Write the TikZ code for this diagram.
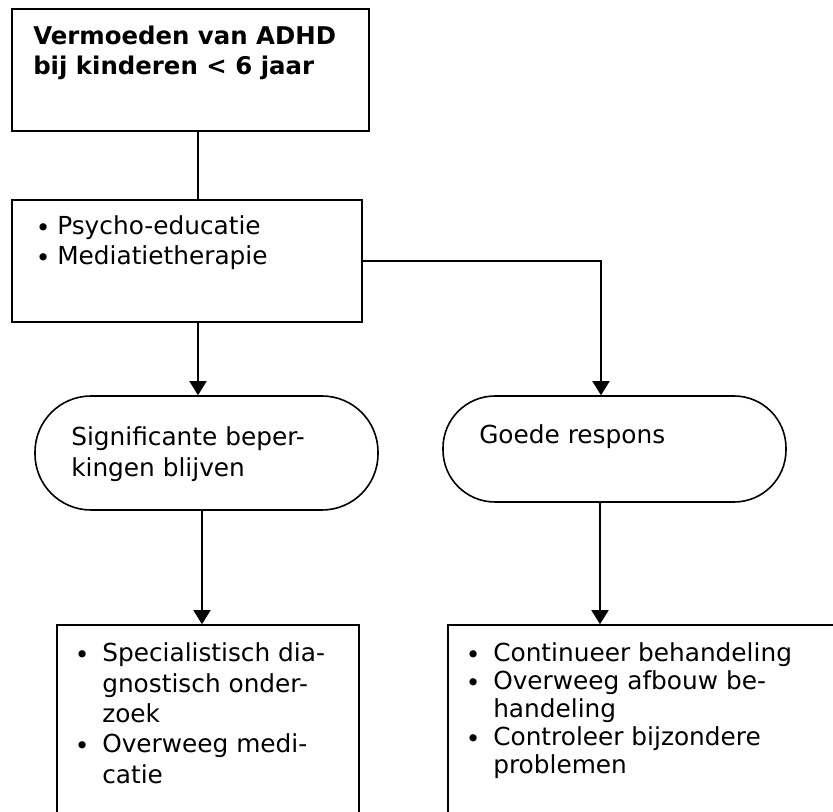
\documentclass[tikz,border=0pt]{standalone}
\usepackage{fontspec}
\setmainfont{DejaVu Sans}
\usetikzlibrary{arrows.meta}
\newcommand\blt[1]{\makebox[#1][c]{\raisebox{-1.5pt}{•}}}
\begin{document}
\begin{tikzpicture}[x=0.75pt,y=-0.75pt,
  box/.style={draw,line width=1.2pt,rectangle,inner sep=0pt},
  stad/.style={draw,line width=1.2pt,rectangle,inner sep=0pt},
  txt/.style={inner sep=0pt,anchor=base west,font=\fontsize{18.6pt}{22.5pt}\selectfont},
  conn/.style={line width=1.2pt},
  arr/.style={conn,-{Triangle[length=10.5pt,width=12.75pt]}}]
\useasboundingbox (0,0) rectangle (833,812);
% shapes
\node[box,minimum width=267.75pt,minimum height=91.5pt] (top) at (190.5,70) {};
\node[box,minimum width=262.5pt,minimum height=91.5pt] (mid) at (187,261) {};
\node[stad,rounded corners=42pt,minimum width=257.25pt,minimum height=85.5pt] (sl) at (206.5,453) {};
\node[stad,rounded corners=39pt,minimum width=257.25pt,minimum height=79.5pt] (sr) at (614.5,449) {};
\node[box,minimum width=226.5pt,minimum height=168.75pt] (bl) at (208,737.5) {};
\node[box,minimum width=309pt,minimum height=168.75pt] (br) at (654,737.5) {};
% texts
\node[txt,font=\bfseries\fontsize{18.3pt}{22.5pt}\selectfont] (t1) at (33,45)
  {\begin{tabular}[t]{@{}l@{}}Vermoeden van ADHD\\bij kinderen < 6 jaar\end{tabular}};
\node[txt] (t2) at (29,235)
  {\begin{tabular}[t]{@{}l@{}}\blt{21pt}Psycho-educatie\\\blt{21pt}Mediatietherapie\end{tabular}};
\node[txt,font=\fontsize{18.6pt}{23.25pt}\selectfont] (t3) at (71,446)
  {\begin{tabular}[t]{@{}l@{}}Significante beper-\\kingen blijven\end{tabular}};
\node[txt] (t4) at (479,444) {Goede respons};
\node[txt,font=\fontsize{18.6pt}{22.7pt}\selectfont] (t5) at (62,662)
  {\begin{tabular}[t]{@{}l@{}}\blt{30pt}Specialistisch dia-\\\hspace{30pt}gnostisch onder-\\\hspace{30pt}zoek\\\blt{30pt}Overweeg medi-\\\hspace{30pt}catie\end{tabular}};
\node[txt,font=\fontsize{18.6pt}{20.85pt}\selectfont] (t6) at (453,662)
  {\begin{tabular}[t]{@{}l@{}}\blt{30pt}Continueer behandeling\\\blt{30pt}Overweeg afbouw be-\\\hspace{30pt}handeling\\\blt{30pt}Controleer bijzondere\\\hspace{30pt}problemen\end{tabular}};
% connectors
\coordinate (c1) at (198,0);
\coordinate (c2) at (601,0);
\coordinate (c3) at (202,0);
\coordinate (c4) at (600,0);
\draw[conn] (c1 |- top.south) -- (c1 |- mid.north);
\draw[arr] (c1 |- mid.south) -- (c1 |- sl.north);
\draw[arr] (mid.east) -| (c2 |- sr.north);
\draw[arr] (c3 |- sl.south) -- (c3 |- bl.north);
\draw[arr] (c4 |- sr.south) -- (c4 |- br.north);
\end{tikzpicture}
\end{document}
